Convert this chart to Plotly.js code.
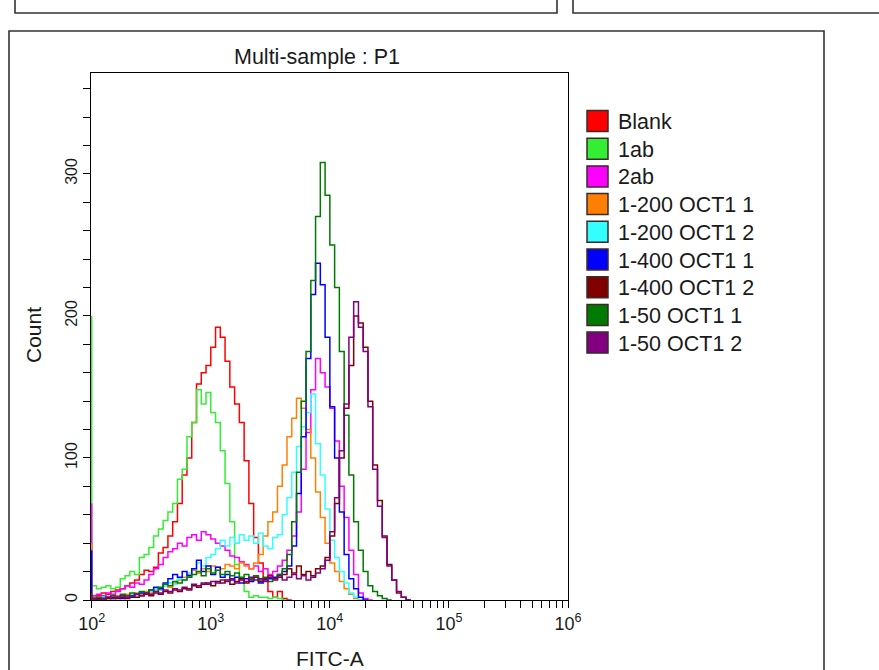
<!DOCTYPE html>
<html>
<head>
<meta charset="utf-8">
<script src="https://cdn.plot.ly/plotly-3.0.1.min.js"></script>
<style>html,body{margin:0;padding:0;background:#fff;}#chart{width:879px;height:670px;}</style>
</head>
<body>
<div id="chart"></div>
<script>
// ---- data: histogram counts per channel (FITC-A, log bins of 0.04 decade starting at 10^2) ----
const seriesNames = ["Blank", "1ab", "2ab", "1-200 OCT1 1", "1-200 OCT1 2", "1-400 OCT1 1", "1-400 OCT1 2", "1-50 OCT1 1", "1-50 OCT1 2"];
const seriesColors = ["#ff0000", "#33ee33", "#ff00ff", "#ff8000", "#33ffff", "#0000ff", "#800000", "#007a00", "#800080"];
const binStartLog = 2;
const binWidthLog = 0.04;

const blank = [3, 2,3,5,4,6,7,8,10,12,14, 18,21,20,23,33,37,45,55,68,88, 100,125,152,160,165,178,192,185,168,150, 138,125,98,68,44,26,15,6,2,6, 1,0];
const ab1 = [200, 10,8,9,10,8,9,15,17,20,18, 30,32,37,45,50,56,62,68,85,92, 115,125,148,138,146,132,125,105,82,55, 25,14,6,2,3,2,2,1,2,1, 0];
const ab2 = [68, 3,4,3,5,4,6,8,10,9,12, 11,14,18,22,25,30,34,36,40,38, 44,46,42,48,46,43,40,38,35,31, 30,27,25,22,24,20,22,18,20,24, 28,35,45,62,92,118,148,170,160,150, 135,112,80,58,35,18,5,1,0];
const oct200_1 = [40, 2,1,2,1,2,3,2,4,3,5, 4,6,5,8,7,10,9,12,14,16, 18,21,19,22,20,24,23,22,25,24, 22,26,24,22,26,32,45,55,62,80, 95,115,128,142,135,120,100,76,58,40, 26,20,13,8,4,1,0];
const oct200_2 = [3, 1,1,2,1,2,2,3,2,4,3, 5,4,6,8,7,10,12,11,15,14, 19,22,26,24,30,32,36,42,38,44, 40,46,42,45,40,47,38,36,44,46, 60,72,90,108,122,132,145,110,88,64, 42,30,20,12,5,2,0];
const oct400_1 = [35, 1,0,1,2,1,2,1,3,2,4, 5,4,7,9,8,12,15,18,16,20, 17,22,28,20,24,18,23,16,18,14, 16,12,15,13,16,12,14,15,16,18, 20,24,38,75,115,170,215,237,222,185, 136,100,62,32,15,8,2,0];
const oct400_2 = [3, 0,1,0,1,2,1,2,1,3,2, 3,4,3,5,4,6,5,7,6,8, 7,10,9,11,12,10,13,12,14,11, 13,15,12,14,16,13,15,17,14,16, 18,22,19,24,18,20,17,22,24,30, 45,68,100,135,165,200,195,178,140,95, 70,45,25,14,5,2,0];
const oct50_1 = [5, 1,2,1,2,3,2,4,3,5,4, 6,5,7,6,9,11,10,13,12,14, 16,18,20,17,22,19,21,18,20,17, 19,16,18,15,17,14,16,13,15,18, 22,32,55,90,140,175,225,270,308,285, 250,220,175,130,88,55,35,20,10,6, 3,1,0];
const oct50_2 = [4, 1,0,1,2,1,2,3,2,3,4, 3,5,4,6,5,7,6,8,7,9, 8,11,10,12,11,13,12,14,13,15, 12,14,13,16,14,15,13,16,15,17, 14,16,18,15,17,14,16,19,22,28, 48,72,105,138,185,210,192,175,136,92, 66,44,24,14,6,2,0];

const xTickDecades = [2, 3, 4, 5, 6];
const yMajorTicks = [0, 100, 200, 300];
const yMinorStep = 20;

const seriesValues = [blank, ab1, ab2, oct200_1, oct200_2, oct400_1, oct400_2, oct50_1, oct50_2];

// ---- traces ----
const traces = seriesValues.map((vals, i) => ({
  type: "scatter",
  mode: "lines",
  name: seriesNames[i],
  x: vals.map((_, k) => Math.pow(10, binStartLog + k * binWidthLog)),
  y: vals,
  line: { color: seriesColors[i], width: 1.5, shape: "vh" },
  showlegend: false,
  hoverinfo: "skip"
}));

// ---- geometry helpers (pixel -> paper) ----
const PL = 91, PR = 568, PT = 73, PB = 600;
const px = v => (v - PL) / (PR - PL);
const py = v => (PB - v) / (PB - PT);

// x ticks: decades labelled, 2..9 as minor ticks
const xtv = xTickDecades.map(d => Math.pow(10, d));
const xtt = xTickDecades.map(d => "10<sup>" + d + "</sup>");
const xminor = [];
xTickDecades.slice(0, -1).forEach(d => { for (let m = 2; m <= 9; m++) xminor.push(m * Math.pow(10, d)); });
const yminor = [];
for (let v = 0; v <= 360; v += yMinorStep) if (!yMajorTicks.includes(v)) yminor.push(v);

const FONT = "Liberation Sans, Arial, sans-serif";
const TXT = "#1a1a1a";

const shapes = [];
const annotations = [];
const frame = { color: "#333", width: 1.6 };
// partial panels above
shapes.push({ type: "path", xref: "paper", yref: "paper",
  path: `M ${px(15)} ${py(-2)} L ${px(15)} ${py(13)} L ${px(557)} ${py(13)} L ${px(557)} ${py(-2)}`, line: frame });
shapes.push({ type: "path", xref: "paper", yref: "paper",
  path: `M ${px(573)} ${py(-2)} L ${px(573)} ${py(13)} L ${px(885)} ${py(13)}`, line: frame });
// outer panel
shapes.push({ type: "path", xref: "paper", yref: "paper",
  path: `M ${px(9)} ${py(680)} L ${px(9)} ${py(31)} L ${px(824)} ${py(31)} L ${px(824)} ${py(680)}`, line: frame });

// legend (boxes + labels)
seriesNames.forEach((n, i) => {
  const cy = 121 + 27.7 * i;
  shapes.push({ type: "rect", xref: "paper", yref: "paper",
    x0: px(587), x1: px(608), y0: py(cy + 10.5), y1: py(cy - 10.5),
    fillcolor: seriesColors[i], line: { color: "#3a2a2a", width: 1.5 } });
  annotations.push({ xref: "paper", yref: "paper", x: px(616), y: py(cy + 1), xanchor: "left", yanchor: "middle",
    text: n, showarrow: false, font: { family: FONT, size: 21.5, color: TXT } });
});

// titles
annotations.push({ xref: "paper", yref: "paper", x: px(317), y: py(57), xanchor: "center", yanchor: "middle",
  text: "Multi-sample : P1", showarrow: false, font: { family: FONT, size: 21.5, color: TXT } });
annotations.push({ xref: "paper", yref: "paper", x: px(330), y: py(658), xanchor: "center", yanchor: "middle",
  text: "FITC-A", showarrow: false, font: { family: FONT, size: 21, color: TXT } });
annotations.push({ xref: "paper", yref: "paper", x: px(33), y: py(335), xanchor: "center", yanchor: "middle",
  text: "Count", textangle: -90, showarrow: false, font: { family: FONT, size: 21, color: TXT } });

const layout = {
  width: 879, height: 670,
  margin: { l: PL, r: 879 - PR, t: PT, b: 670 - PB, pad: 0 },
  paper_bgcolor: "#fff", plot_bgcolor: "#fff",
  showlegend: false,
  font: { family: FONT, color: TXT },
  xaxis: {
    type: "log", range: [1.994, 6], autorange: false,
    tickmode: "array", tickvals: xtv, ticktext: xtt,
    ticks: "outside", ticklen: 7, tickwidth: 1, tickcolor: "#000",
    minor: { tickmode: "array", tickvals: xminor, ticks: "outside", ticklen: 7, tickwidth: 1, tickcolor: "#000", showgrid: false },
    showline: true, linecolor: "#000", linewidth: 1, mirror: true,
    showgrid: false, zeroline: false, layer: "below traces",
    tickfont: { family: FONT, size: 18, color: TXT }
  },
  yaxis: {
    range: [0, 371], autorange: false,
    tickmode: "array", tickvals: yMajorTicks, ticktext: yMajorTicks.map(String),
    ticks: "outside", ticklen: 7, tickwidth: 1, tickcolor: "#000",
    minor: { tickmode: "array", tickvals: yminor, ticks: "outside", ticklen: 7, tickwidth: 1, tickcolor: "#000", showgrid: false },
    tickangle: -90,
    showline: true, linecolor: "#000", linewidth: 1, mirror: true,
    showgrid: false, zeroline: false, layer: "below traces",
    tickfont: { family: FONT, size: 16, color: TXT }
  },
  shapes: shapes,
  annotations: annotations
};

Plotly.newPlot("chart", traces, layout, { displayModeBar: false, staticPlot: true });
</script>
</body>
</html>
